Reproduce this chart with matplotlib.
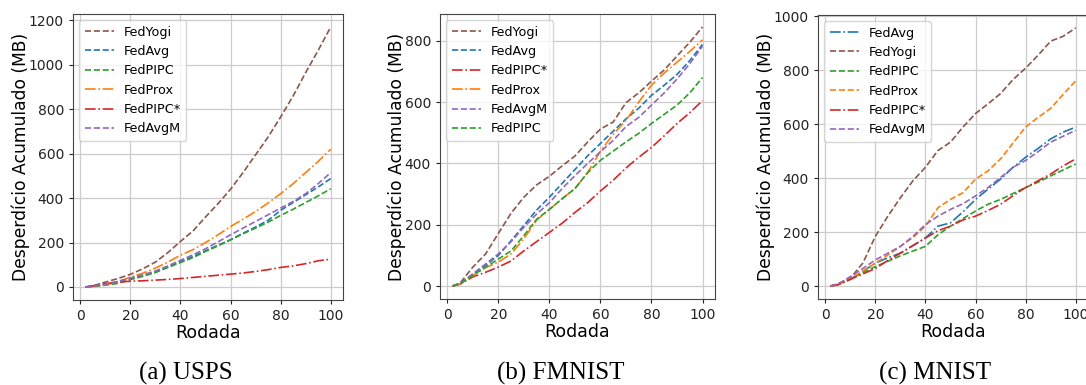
#!/usr/bin/env python3
"""Desperdicio acumulado por rodada: USPS, FMNIST e MNIST."""

import matplotlib
matplotlib.use("Agg")
import matplotlib.pyplot as plt

ROUNDS = [2, 5, 10, 15, 20, 25, 30, 35, 40, 45, 50, 55, 60, 65, 70, 75, 80, 85, 90, 95, 100]

# (a) USPS
usps_fedyogi = [0, 5, 22, 38, 57, 82, 112, 155, 205, 252, 315, 375, 440, 515, 595, 675, 765, 860, 965, 1065, 1170]
usps_fedavg = [0, 3, 12, 25, 38, 52, 68, 90, 115, 138, 163, 188, 213, 242, 270, 300, 345, 380, 415, 450, 488]
usps_fedpipc = [0, 2, 8, 16, 33, 48, 65, 88, 110, 132, 160, 185, 212, 240, 265, 292, 322, 350, 380, 410, 442]
usps_fedprox = [0, 2, 10, 22, 45, 62, 85, 112, 143, 168, 200, 235, 272, 305, 340, 378, 420, 465, 515, 565, 620]
usps_fedpipc_star = [0, 5, 15, 22, 26, 28, 31, 34, 38, 43, 48, 53, 58, 63, 70, 78, 88, 95, 105, 118, 125]
usps_fedavgm = [0, 3, 12, 25, 40, 55, 72, 95, 120, 145, 172, 203, 235, 265, 295, 325, 355, 385, 420, 465, 515]

# (b) FMNIST
fmnist_fedyogi = [0, 10, 62, 105, 172, 238, 290, 330, 358, 392, 424, 470, 512, 535, 598, 630, 668, 705, 750, 795, 845]
fmnist_fedavg = [0, 8, 38, 68, 100, 148, 198, 248, 290, 335, 380, 425, 465, 505, 545, 580, 622, 655, 690, 735, 788]
fmnist_fedpipc_star = [0, 6, 30, 45, 62, 82, 115, 145, 175, 205, 240, 272, 310, 345, 385, 420, 452, 490, 530, 565, 605]
fmnist_fedprox = [0, 7, 35, 60, 78, 105, 155, 215, 250, 285, 318, 370, 440, 495, 540, 600, 655, 695, 730, 765, 803]
fmnist_fedavgm = [0, 8, 40, 72, 105, 145, 192, 235, 272, 318, 360, 400, 438, 475, 520, 550, 590, 630, 675, 725, 782]
fmnist_fedpipc = [0, 7, 35, 62, 88, 115, 165, 218, 250, 285, 318, 370, 410, 440, 470, 498, 530, 560, 590, 630, 680]

# (c) MNIST
mnist_fedavg = [0, 5, 25, 55, 85, 105, 122, 150, 178, 222, 234, 275, 321, 359, 396, 440, 477, 510, 545, 570, 589]
mnist_fedyogi = [0, 8, 29, 85, 184, 259, 327, 390, 440, 502, 533, 589, 639, 675, 713, 765, 807, 855, 907, 925, 956]
mnist_fedpipc = [0, 5, 25, 50, 72, 92, 112, 130, 147, 190, 222, 250, 278, 303, 321, 343, 365, 385, 408, 430, 452]
mnist_fedprox = [0, 5, 28, 55, 85, 115, 147, 180, 222, 290, 321, 346, 396, 427, 471, 530, 589, 625, 658, 710, 760]
mnist_fedpipc_star = [0, 5, 25, 45, 65, 95, 122, 150, 178, 205, 222, 245, 259, 280, 303, 335, 365, 390, 415, 445, 471]
mnist_fedavgm = [0, 7, 35, 65, 97, 122, 147, 184, 228, 259, 284, 305, 334, 365, 402, 440, 465, 498, 533, 555, 577]

COLORS = {
    "FedYogi": "#8c564b",
    "FedAvg": "#1f77b4",
    "FedPIPC": "#2ca02c",
    "FedProx": "#ff7f0e",
    "FedPIPC*": "#d62728",
    "FedAvgM": "#9467bd",
}

PANELS = [
    ("(a) USPS", [
        ("FedYogi", usps_fedyogi, "--"),
        ("FedAvg", usps_fedavg, "--"),
        ("FedPIPC", usps_fedpipc, "--"),
        ("FedProx", usps_fedprox, "-."),
        ("FedPIPC*", usps_fedpipc_star, "-."),
        ("FedAvgM", usps_fedavgm, "--"),
    ], [0, 200, 400, 600, 800, 1000, 1200]),
    ("(b) FMNIST", [
        ("FedYogi", fmnist_fedyogi, "--"),
        ("FedAvg", fmnist_fedavg, "--"),
        ("FedPIPC*", fmnist_fedpipc_star, "-."),
        ("FedProx", fmnist_fedprox, "-."),
        ("FedAvgM", fmnist_fedavgm, "--"),
        ("FedPIPC", fmnist_fedpipc, "--"),
    ], [0, 200, 400, 600, 800]),
    ("(c) MNIST", [
        ("FedAvg", mnist_fedavg, "-."),
        ("FedYogi", mnist_fedyogi, "--"),
        ("FedPIPC", mnist_fedpipc, "--"),
        ("FedProx", mnist_fedprox, "--"),
        ("FedPIPC*", mnist_fedpipc_star, "-."),
        ("FedAvgM", mnist_fedavgm, "--"),
    ], [0, 200, 400, 600, 800, 1000]),
]

# axes boxes in pixels: left, top, right, bottom
BOXES = [(73, 14, 343, 300), (440, 14, 715, 299), (818, 15, 1088, 299)]
CAPTION_X = [186, 561, 935]
W, H = 1086, 385


def plot_panel(ax, series, yticks):
    for name, values, ls in series:
        ax.plot(ROUNDS, values, ls, color=COLORS[name], lw=1.2, label=name)
    ax.set_xticks([0, 20, 40, 60, 80, 100])
    ax.set_yticks(yticks)
    ax.grid(True, color="#cccccc", lw=0.9)
    ax.tick_params(labelsize=10, colors="#222222", length=3)
    for sp in ax.spines.values():
        sp.set_color("#444444")
    ax.set_xlabel("Rodada", fontsize=12.5, labelpad=1)
    ax.set_ylabel("Desperdício Acumulado (MB)", fontsize=12.3, labelpad=-1)
    ax.legend(loc="upper left", fontsize=9.2, handlelength=2.3, borderaxespad=0.5)


def main():
    fig = plt.figure(figsize=(W / 100, H / 100), dpi=100)
    for (caption, series, yticks), (l, t, r, b), cx in zip(PANELS, BOXES, CAPTION_X):
        ax = fig.add_axes([l / W, 1 - b / H, (r - l) / W, (b - t) / H])
        plot_panel(ax, series, yticks)
        fig.text(cx / W, 1 - 373 / H, caption, ha="center", va="center",
                 family="Liberation Serif", fontsize=18)
    fig.savefig("out.png", dpi=100, facecolor="white")
    plt.close(fig)


if __name__ == "__main__":
    main()
